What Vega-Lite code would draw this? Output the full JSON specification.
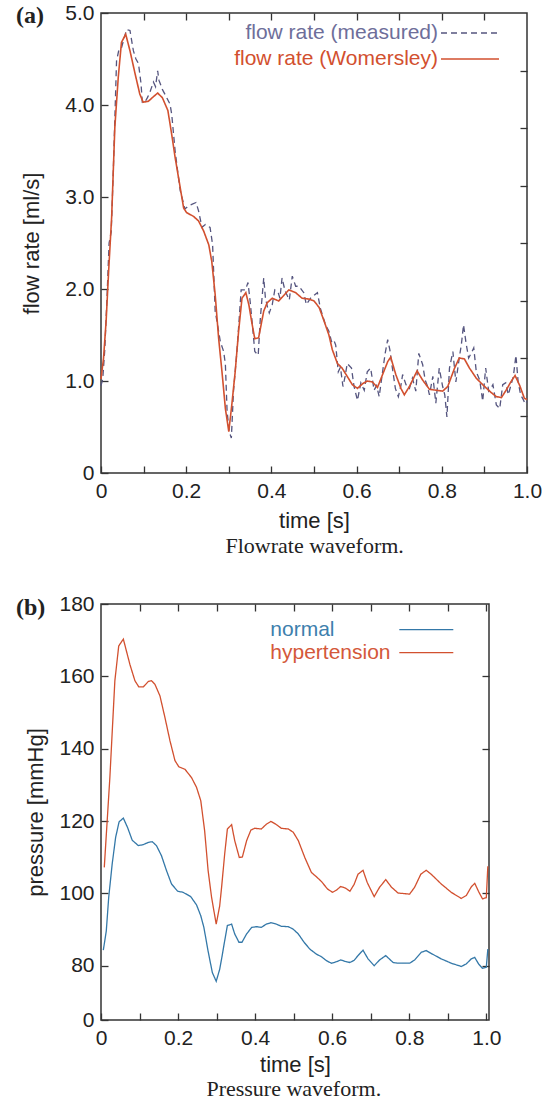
{
"$schema": "https://vega.github.io/schema/vega-lite/v6.json",
"background": "white",
"padding": {"left": 15, "top": 1, "right": 5, "bottom": 0},
"spacing": 35,
"resolve": {"scale": {"color": "independent", "strokeDash": "independent"}, "legend": {"color": "independent", "strokeDash": "independent"}},
"datasets": {
"flow": [
{"t":0,"v":0.95,"s":"flow rate (measured)"},{"t":0.004,"v":1.02,"s":"flow rate (measured)"},{"t":0.009,"v":1.35,"s":"flow rate (measured)"},{"t":0.014,"v":1.9,"s":"flow rate (measured)"},{"t":0.019,"v":2.5,"s":"flow rate (measured)"},{"t":0.024,"v":2.62,"s":"flow rate (measured)"},{"t":0.029,"v":3.3,"s":"flow rate (measured)"},{"t":0.0365,"v":4.48,"s":"flow rate (measured)"},{"t":0.042,"v":4.6,"s":"flow rate (measured)"},{"t":0.048,"v":4.62,"s":"flow rate (measured)"},{"t":0.054,"v":4.72,"s":"flow rate (measured)"},{"t":0.06,"v":4.82,"s":"flow rate (measured)"},{"t":0.068,"v":4.81,"s":"flow rate (measured)"},{"t":0.076,"v":4.59,"s":"flow rate (measured)"},{"t":0.082,"v":4.5,"s":"flow rate (measured)"},{"t":0.088,"v":4.45,"s":"flow rate (measured)"},{"t":0.094,"v":4.23,"s":"flow rate (measured)"},{"t":0.097,"v":4.03,"s":"flow rate (measured)"},{"t":0.103,"v":4.03,"s":"flow rate (measured)"},{"t":0.109,"v":4.08,"s":"flow rate (measured)"},{"t":0.115,"v":4.14,"s":"flow rate (measured)"},{"t":0.123,"v":4.25,"s":"flow rate (measured)"},{"t":0.128,"v":4.2,"s":"flow rate (measured)"},{"t":0.133,"v":4.37,"s":"flow rate (measured)"},{"t":0.136,"v":4.27,"s":"flow rate (measured)"},{"t":0.144,"v":4.17,"s":"flow rate (measured)"},{"t":0.152,"v":4.1,"s":"flow rate (measured)"},{"t":0.162,"v":4.01,"s":"flow rate (measured)"},{"t":0.166,"v":3.9,"s":"flow rate (measured)"},{"t":0.174,"v":3.5,"s":"flow rate (measured)"},{"t":0.18,"v":3.28,"s":"flow rate (measured)"},{"t":0.186,"v":3.07,"s":"flow rate (measured)"},{"t":0.197,"v":2.87,"s":"flow rate (measured)"},{"t":0.205,"v":2.9,"s":"flow rate (measured)"},{"t":0.213,"v":2.92,"s":"flow rate (measured)"},{"t":0.223,"v":2.94,"s":"flow rate (measured)"},{"t":0.229,"v":2.85,"s":"flow rate (measured)"},{"t":0.237,"v":2.67,"s":"flow rate (measured)"},{"t":0.245,"v":2.7,"s":"flow rate (measured)"},{"t":0.256,"v":2.67,"s":"flow rate (measured)"},{"t":0.262,"v":2.48,"s":"flow rate (measured)"},{"t":0.268,"v":1.76,"s":"flow rate (measured)"},{"t":0.274,"v":1.6,"s":"flow rate (measured)"},{"t":0.28,"v":1.43,"s":"flow rate (measured)"},{"t":0.288,"v":1.32,"s":"flow rate (measured)"},{"t":0.292,"v":1.18,"s":"flow rate (measured)"},{"t":0.296,"v":0.67,"s":"flow rate (measured)"},{"t":0.301,"v":0.45,"s":"flow rate (measured)"},{"t":0.306,"v":0.38,"s":"flow rate (measured)"},{"t":0.311,"v":0.89,"s":"flow rate (measured)"},{"t":0.319,"v":1.32,"s":"flow rate (measured)"},{"t":0.324,"v":1.65,"s":"flow rate (measured)"},{"t":0.329,"v":1.99,"s":"flow rate (measured)"},{"t":0.339,"v":1.99,"s":"flow rate (measured)"},{"t":0.345,"v":2.07,"s":"flow rate (measured)"},{"t":0.35,"v":1.87,"s":"flow rate (measured)"},{"t":0.356,"v":1.58,"s":"flow rate (measured)"},{"t":0.361,"v":1.32,"s":"flow rate (measured)"},{"t":0.369,"v":1.28,"s":"flow rate (measured)"},{"t":0.374,"v":1.68,"s":"flow rate (measured)"},{"t":0.382,"v":2.12,"s":"flow rate (measured)"},{"t":0.386,"v":1.9,"s":"flow rate (measured)"},{"t":0.391,"v":1.8,"s":"flow rate (measured)"},{"t":0.395,"v":1.74,"s":"flow rate (measured)"},{"t":0.402,"v":1.83,"s":"flow rate (measured)"},{"t":0.408,"v":1.99,"s":"flow rate (measured)"},{"t":0.416,"v":1.96,"s":"flow rate (measured)"},{"t":0.42,"v":1.9,"s":"flow rate (measured)"},{"t":0.425,"v":2.12,"s":"flow rate (measured)"},{"t":0.432,"v":1.98,"s":"flow rate (measured)"},{"t":0.442,"v":1.88,"s":"flow rate (measured)"},{"t":0.449,"v":2.14,"s":"flow rate (measured)"},{"t":0.457,"v":2.03,"s":"flow rate (measured)"},{"t":0.465,"v":2.03,"s":"flow rate (measured)"},{"t":0.476,"v":1.96,"s":"flow rate (measured)"},{"t":0.482,"v":1.83,"s":"flow rate (measured)"},{"t":0.492,"v":1.9,"s":"flow rate (measured)"},{"t":0.5,"v":1.93,"s":"flow rate (measured)"},{"t":0.508,"v":1.96,"s":"flow rate (measured)"},{"t":0.515,"v":1.79,"s":"flow rate (measured)"},{"t":0.521,"v":1.7,"s":"flow rate (measured)"},{"t":0.527,"v":1.61,"s":"flow rate (measured)"},{"t":0.535,"v":1.54,"s":"flow rate (measured)"},{"t":0.541,"v":1.43,"s":"flow rate (measured)"},{"t":0.546,"v":1.45,"s":"flow rate (measured)"},{"t":0.551,"v":1.39,"s":"flow rate (measured)"},{"t":0.557,"v":1.1,"s":"flow rate (measured)"},{"t":0.562,"v":1.15,"s":"flow rate (measured)"},{"t":0.568,"v":0.94,"s":"flow rate (measured)"},{"t":0.573,"v":1.05,"s":"flow rate (measured)"},{"t":0.578,"v":1.19,"s":"flow rate (measured)"},{"t":0.588,"v":1.14,"s":"flow rate (measured)"},{"t":0.594,"v":0.94,"s":"flow rate (measured)"},{"t":0.602,"v":0.79,"s":"flow rate (measured)"},{"t":0.61,"v":0.98,"s":"flow rate (measured)"},{"t":0.618,"v":0.9,"s":"flow rate (measured)"},{"t":0.625,"v":1.1,"s":"flow rate (measured)"},{"t":0.633,"v":1.14,"s":"flow rate (measured)"},{"t":0.641,"v":0.9,"s":"flow rate (measured)"},{"t":0.647,"v":0.95,"s":"flow rate (measured)"},{"t":0.653,"v":0.83,"s":"flow rate (measured)"},{"t":0.661,"v":1.1,"s":"flow rate (measured)"},{"t":0.667,"v":1.3,"s":"flow rate (measured)"},{"t":0.673,"v":1.45,"s":"flow rate (measured)"},{"t":0.678,"v":1.34,"s":"flow rate (measured)"},{"t":0.684,"v":1.14,"s":"flow rate (measured)"},{"t":0.691,"v":0.92,"s":"flow rate (measured)"},{"t":0.698,"v":0.83,"s":"flow rate (measured)"},{"t":0.704,"v":0.95,"s":"flow rate (measured)"},{"t":0.708,"v":1.07,"s":"flow rate (measured)"},{"t":0.716,"v":0.96,"s":"flow rate (measured)"},{"t":0.724,"v":0.92,"s":"flow rate (measured)"},{"t":0.731,"v":1.03,"s":"flow rate (measured)"},{"t":0.739,"v":0.89,"s":"flow rate (measured)"},{"t":0.746,"v":1.3,"s":"flow rate (measured)"},{"t":0.755,"v":1.18,"s":"flow rate (measured)"},{"t":0.761,"v":1.01,"s":"flow rate (measured)"},{"t":0.766,"v":0.95,"s":"flow rate (measured)"},{"t":0.771,"v":0.85,"s":"flow rate (measured)"},{"t":0.779,"v":1.05,"s":"flow rate (measured)"},{"t":0.786,"v":0.76,"s":"flow rate (measured)"},{"t":0.794,"v":1.14,"s":"flow rate (measured)"},{"t":0.802,"v":0.94,"s":"flow rate (measured)"},{"t":0.807,"v":0.85,"s":"flow rate (measured)"},{"t":0.812,"v":0.61,"s":"flow rate (measured)"},{"t":0.818,"v":1.14,"s":"flow rate (measured)"},{"t":0.826,"v":1.32,"s":"flow rate (measured)"},{"t":0.833,"v":0.99,"s":"flow rate (measured)"},{"t":0.841,"v":1.25,"s":"flow rate (measured)"},{"t":0.846,"v":1.4,"s":"flow rate (measured)"},{"t":0.851,"v":1.61,"s":"flow rate (measured)"},{"t":0.857,"v":1.41,"s":"flow rate (measured)"},{"t":0.863,"v":1.25,"s":"flow rate (measured)"},{"t":0.869,"v":1.3,"s":"flow rate (measured)"},{"t":0.875,"v":1.36,"s":"flow rate (measured)"},{"t":0.881,"v":1.1,"s":"flow rate (measured)"},{"t":0.889,"v":1.01,"s":"flow rate (measured)"},{"t":0.896,"v":0.78,"s":"flow rate (measured)"},{"t":0.903,"v":1.14,"s":"flow rate (measured)"},{"t":0.91,"v":0.89,"s":"flow rate (measured)"},{"t":0.915,"v":0.92,"s":"flow rate (measured)"},{"t":0.92,"v":0.96,"s":"flow rate (measured)"},{"t":0.928,"v":0.74,"s":"flow rate (measured)"},{"t":0.936,"v":0.7,"s":"flow rate (measured)"},{"t":0.943,"v":0.96,"s":"flow rate (measured)"},{"t":0.95,"v":0.98,"s":"flow rate (measured)"},{"t":0.956,"v":0.85,"s":"flow rate (measured)"},{"t":0.962,"v":0.95,"s":"flow rate (measured)"},{"t":0.968,"v":1.05,"s":"flow rate (measured)"},{"t":0.974,"v":1.28,"s":"flow rate (measured)"},{"t":0.979,"v":1.0,"s":"flow rate (measured)"},{"t":0.985,"v":0.85,"s":"flow rate (measured)"},{"t":0.991,"v":0.8,"s":"flow rate (measured)"},{"t":0.996,"v":0.75,"s":"flow rate (measured)"},{"t":1.0,"v":0.78,"s":"flow rate (measured)"},
{"t":0,"v":1.02,"s":"flow rate (Womersley)"},{"t":0.006,"v":1.25,"s":"flow rate (Womersley)"},{"t":0.012,"v":1.65,"s":"flow rate (Womersley)"},{"t":0.018,"v":2.2,"s":"flow rate (Womersley)"},{"t":0.025,"v":2.78,"s":"flow rate (Womersley)"},{"t":0.0325,"v":3.76,"s":"flow rate (Womersley)"},{"t":0.0405,"v":4.3,"s":"flow rate (Womersley)"},{"t":0.048,"v":4.68,"s":"flow rate (Womersley)"},{"t":0.058,"v":4.77,"s":"flow rate (Womersley)"},{"t":0.068,"v":4.59,"s":"flow rate (Womersley)"},{"t":0.08,"v":4.34,"s":"flow rate (Womersley)"},{"t":0.091,"v":4.12,"s":"flow rate (Womersley)"},{"t":0.099,"v":4.03,"s":"flow rate (Womersley)"},{"t":0.111,"v":4.04,"s":"flow rate (Womersley)"},{"t":0.123,"v":4.09,"s":"flow rate (Womersley)"},{"t":0.133,"v":4.13,"s":"flow rate (Womersley)"},{"t":0.144,"v":4.08,"s":"flow rate (Womersley)"},{"t":0.157,"v":3.94,"s":"flow rate (Womersley)"},{"t":0.166,"v":3.68,"s":"flow rate (Womersley)"},{"t":0.174,"v":3.43,"s":"flow rate (Womersley)"},{"t":0.186,"v":3.1,"s":"flow rate (Womersley)"},{"t":0.194,"v":2.88,"s":"flow rate (Womersley)"},{"t":0.201,"v":2.83,"s":"flow rate (Womersley)"},{"t":0.217,"v":2.79,"s":"flow rate (Womersley)"},{"t":0.229,"v":2.74,"s":"flow rate (Womersley)"},{"t":0.241,"v":2.63,"s":"flow rate (Womersley)"},{"t":0.253,"v":2.48,"s":"flow rate (Womersley)"},{"t":0.26,"v":2.3,"s":"flow rate (Womersley)"},{"t":0.268,"v":1.94,"s":"flow rate (Womersley)"},{"t":0.276,"v":1.47,"s":"flow rate (Womersley)"},{"t":0.284,"v":1.1,"s":"flow rate (Womersley)"},{"t":0.292,"v":0.7,"s":"flow rate (Womersley)"},{"t":0.3,"v":0.45,"s":"flow rate (Womersley)"},{"t":0.307,"v":0.74,"s":"flow rate (Womersley)"},{"t":0.315,"v":1.1,"s":"flow rate (Womersley)"},{"t":0.323,"v":1.54,"s":"flow rate (Womersley)"},{"t":0.331,"v":1.9,"s":"flow rate (Womersley)"},{"t":0.34,"v":1.96,"s":"flow rate (Womersley)"},{"t":0.347,"v":1.83,"s":"flow rate (Womersley)"},{"t":0.355,"v":1.61,"s":"flow rate (Womersley)"},{"t":0.361,"v":1.46,"s":"flow rate (Womersley)"},{"t":0.37,"v":1.47,"s":"flow rate (Womersley)"},{"t":0.382,"v":1.76,"s":"flow rate (Womersley)"},{"t":0.39,"v":1.85,"s":"flow rate (Womersley)"},{"t":0.402,"v":1.9,"s":"flow rate (Womersley)"},{"t":0.417,"v":1.87,"s":"flow rate (Womersley)"},{"t":0.429,"v":1.93,"s":"flow rate (Womersley)"},{"t":0.441,"v":1.99,"s":"flow rate (Womersley)"},{"t":0.457,"v":1.96,"s":"flow rate (Womersley)"},{"t":0.472,"v":1.9,"s":"flow rate (Womersley)"},{"t":0.488,"v":1.89,"s":"flow rate (Womersley)"},{"t":0.5,"v":1.87,"s":"flow rate (Womersley)"},{"t":0.512,"v":1.8,"s":"flow rate (Womersley)"},{"t":0.523,"v":1.66,"s":"flow rate (Womersley)"},{"t":0.535,"v":1.5,"s":"flow rate (Womersley)"},{"t":0.543,"v":1.34,"s":"flow rate (Womersley)"},{"t":0.555,"v":1.19,"s":"flow rate (Womersley)"},{"t":0.566,"v":1.14,"s":"flow rate (Womersley)"},{"t":0.578,"v":1.05,"s":"flow rate (Womersley)"},{"t":0.59,"v":0.96,"s":"flow rate (Womersley)"},{"t":0.602,"v":0.92,"s":"flow rate (Womersley)"},{"t":0.614,"v":0.97,"s":"flow rate (Womersley)"},{"t":0.625,"v":1.0,"s":"flow rate (Womersley)"},{"t":0.637,"v":0.99,"s":"flow rate (Womersley)"},{"t":0.649,"v":0.93,"s":"flow rate (Womersley)"},{"t":0.661,"v":1.07,"s":"flow rate (Womersley)"},{"t":0.673,"v":1.21,"s":"flow rate (Womersley)"},{"t":0.68,"v":1.26,"s":"flow rate (Womersley)"},{"t":0.692,"v":1.07,"s":"flow rate (Womersley)"},{"t":0.704,"v":0.92,"s":"flow rate (Womersley)"},{"t":0.712,"v":0.85,"s":"flow rate (Womersley)"},{"t":0.724,"v":0.94,"s":"flow rate (Womersley)"},{"t":0.742,"v":1.11,"s":"flow rate (Womersley)"},{"t":0.755,"v":1.01,"s":"flow rate (Womersley)"},{"t":0.771,"v":0.91,"s":"flow rate (Womersley)"},{"t":0.786,"v":0.9,"s":"flow rate (Womersley)"},{"t":0.802,"v":0.89,"s":"flow rate (Womersley)"},{"t":0.814,"v":0.94,"s":"flow rate (Womersley)"},{"t":0.83,"v":1.14,"s":"flow rate (Womersley)"},{"t":0.841,"v":1.25,"s":"flow rate (Womersley)"},{"t":0.853,"v":1.24,"s":"flow rate (Womersley)"},{"t":0.865,"v":1.14,"s":"flow rate (Womersley)"},{"t":0.881,"v":1.03,"s":"flow rate (Womersley)"},{"t":0.896,"v":0.96,"s":"flow rate (Womersley)"},{"t":0.912,"v":0.89,"s":"flow rate (Womersley)"},{"t":0.928,"v":0.83,"s":"flow rate (Womersley)"},{"t":0.94,"v":0.82,"s":"flow rate (Womersley)"},{"t":0.951,"v":0.9,"s":"flow rate (Womersley)"},{"t":0.962,"v":0.99,"s":"flow rate (Womersley)"},{"t":0.972,"v":1.06,"s":"flow rate (Womersley)"},{"t":0.983,"v":0.95,"s":"flow rate (Womersley)"},{"t":0.994,"v":0.81,"s":"flow rate (Womersley)"},{"t":1.0,"v":0.8,"s":"flow rate (Womersley)"}
],
"pressure": [
{"t":0.006,"p":84.3,"s":"normal"},{"t":0.0137,"p":89.6,"s":"normal"},{"t":0.02,"p":98.9,"s":"normal"},{"t":0.029,"p":108.1,"s":"normal"},{"t":0.038,"p":115.5,"s":"normal"},{"t":0.047,"p":119.8,"s":"normal"},{"t":0.058,"p":120.8,"s":"normal"},{"t":0.069,"p":118.2,"s":"normal"},{"t":0.081,"p":114.7,"s":"normal"},{"t":0.097,"p":113.2,"s":"normal"},{"t":0.11,"p":113.5,"s":"normal"},{"t":0.123,"p":114.1,"s":"normal"},{"t":0.133,"p":114.3,"s":"normal"},{"t":0.144,"p":113.2,"s":"normal"},{"t":0.157,"p":110.4,"s":"normal"},{"t":0.17,"p":106.3,"s":"normal"},{"t":0.183,"p":102.6,"s":"normal"},{"t":0.199,"p":100.6,"s":"normal"},{"t":0.213,"p":100.3,"s":"normal"},{"t":0.233,"p":99.1,"s":"normal"},{"t":0.248,"p":96.8,"s":"normal"},{"t":0.259,"p":93.8,"s":"normal"},{"t":0.267,"p":90.6,"s":"normal"},{"t":0.278,"p":84.0,"s":"normal"},{"t":0.289,"p":78.1,"s":"normal"},{"t":0.299,"p":75.7,"s":"normal"},{"t":0.308,"p":79.0,"s":"normal"},{"t":0.313,"p":81.9,"s":"normal"},{"t":0.321,"p":86.9,"s":"normal"},{"t":0.328,"p":91.1,"s":"normal"},{"t":0.339,"p":91.5,"s":"normal"},{"t":0.347,"p":88.8,"s":"normal"},{"t":0.358,"p":86.5,"s":"normal"},{"t":0.366,"p":86.5,"s":"normal"},{"t":0.378,"p":88.8,"s":"normal"},{"t":0.391,"p":90.6,"s":"normal"},{"t":0.404,"p":90.8,"s":"normal"},{"t":0.416,"p":90.6,"s":"normal"},{"t":0.429,"p":91.5,"s":"normal"},{"t":0.441,"p":91.9,"s":"normal"},{"t":0.455,"p":91.5,"s":"normal"},{"t":0.468,"p":90.9,"s":"normal"},{"t":0.486,"p":90.8,"s":"normal"},{"t":0.499,"p":90.1,"s":"normal"},{"t":0.512,"p":88.8,"s":"normal"},{"t":0.527,"p":86.5,"s":"normal"},{"t":0.542,"p":84.6,"s":"normal"},{"t":0.559,"p":83.2,"s":"normal"},{"t":0.572,"p":82.5,"s":"normal"},{"t":0.585,"p":81.4,"s":"normal"},{"t":0.598,"p":80.7,"s":"normal"},{"t":0.611,"p":81.1,"s":"normal"},{"t":0.622,"p":81.6,"s":"normal"},{"t":0.634,"p":81.2,"s":"normal"},{"t":0.646,"p":80.9,"s":"normal"},{"t":0.657,"p":81.5,"s":"normal"},{"t":0.667,"p":82.8,"s":"normal"},{"t":0.68,"p":84.3,"s":"normal"},{"t":0.693,"p":81.9,"s":"normal"},{"t":0.709,"p":80.0,"s":"normal"},{"t":0.723,"p":81.6,"s":"normal"},{"t":0.739,"p":82.8,"s":"normal"},{"t":0.758,"p":80.9,"s":"normal"},{"t":0.771,"p":80.7,"s":"normal"},{"t":0.801,"p":80.7,"s":"normal"},{"t":0.814,"p":81.6,"s":"normal"},{"t":0.831,"p":83.7,"s":"normal"},{"t":0.844,"p":84.2,"s":"normal"},{"t":0.857,"p":83.4,"s":"normal"},{"t":0.883,"p":81.9,"s":"normal"},{"t":0.909,"p":80.7,"s":"normal"},{"t":0.935,"p":79.8,"s":"normal"},{"t":0.948,"p":80.5,"s":"normal"},{"t":0.961,"p":81.9,"s":"normal"},{"t":0.97,"p":82.3,"s":"normal"},{"t":0.98,"p":80.5,"s":"normal"},{"t":0.99,"p":79.3,"s":"normal"},{"t":1.0,"p":79.6,"s":"normal"},{"t":1.004,"p":84.6,"s":"normal"},
{"t":0.0085,"p":107.2,"s":"hypertension"},{"t":0.023,"p":132.0,"s":"hypertension"},{"t":0.036,"p":158.8,"s":"hypertension"},{"t":0.046,"p":168.4,"s":"hypertension"},{"t":0.058,"p":170.3,"s":"hypertension"},{"t":0.066,"p":167.0,"s":"hypertension"},{"t":0.075,"p":163.3,"s":"hypertension"},{"t":0.088,"p":158.8,"s":"hypertension"},{"t":0.098,"p":157.1,"s":"hypertension"},{"t":0.11,"p":157.1,"s":"hypertension"},{"t":0.123,"p":158.6,"s":"hypertension"},{"t":0.131,"p":158.8,"s":"hypertension"},{"t":0.14,"p":157.8,"s":"hypertension"},{"t":0.153,"p":154.6,"s":"hypertension"},{"t":0.166,"p":148.6,"s":"hypertension"},{"t":0.179,"p":142.2,"s":"hypertension"},{"t":0.192,"p":136.7,"s":"hypertension"},{"t":0.202,"p":135.0,"s":"hypertension"},{"t":0.218,"p":134.3,"s":"hypertension"},{"t":0.235,"p":132.0,"s":"hypertension"},{"t":0.248,"p":129.3,"s":"hypertension"},{"t":0.259,"p":125.6,"s":"hypertension"},{"t":0.269,"p":117.3,"s":"hypertension"},{"t":0.278,"p":106.3,"s":"hypertension"},{"t":0.287,"p":98.9,"s":"hypertension"},{"t":0.299,"p":91.5,"s":"hypertension"},{"t":0.308,"p":96.5,"s":"hypertension"},{"t":0.313,"p":101.7,"s":"hypertension"},{"t":0.321,"p":110.9,"s":"hypertension"},{"t":0.328,"p":117.8,"s":"hypertension"},{"t":0.339,"p":119.0,"s":"hypertension"},{"t":0.347,"p":114.6,"s":"hypertension"},{"t":0.359,"p":109.9,"s":"hypertension"},{"t":0.367,"p":110.1,"s":"hypertension"},{"t":0.378,"p":114.6,"s":"hypertension"},{"t":0.389,"p":117.5,"s":"hypertension"},{"t":0.399,"p":118.0,"s":"hypertension"},{"t":0.416,"p":117.8,"s":"hypertension"},{"t":0.429,"p":119.1,"s":"hypertension"},{"t":0.441,"p":119.9,"s":"hypertension"},{"t":0.454,"p":119.1,"s":"hypertension"},{"t":0.468,"p":118.0,"s":"hypertension"},{"t":0.486,"p":117.8,"s":"hypertension"},{"t":0.499,"p":116.9,"s":"hypertension"},{"t":0.512,"p":114.6,"s":"hypertension"},{"t":0.529,"p":109.9,"s":"hypertension"},{"t":0.546,"p":105.8,"s":"hypertension"},{"t":0.559,"p":104.6,"s":"hypertension"},{"t":0.572,"p":103.3,"s":"hypertension"},{"t":0.588,"p":101.2,"s":"hypertension"},{"t":0.601,"p":100.3,"s":"hypertension"},{"t":0.611,"p":100.9,"s":"hypertension"},{"t":0.622,"p":101.9,"s":"hypertension"},{"t":0.634,"p":101.5,"s":"hypertension"},{"t":0.646,"p":100.6,"s":"hypertension"},{"t":0.657,"p":102.5,"s":"hypertension"},{"t":0.667,"p":105.3,"s":"hypertension"},{"t":0.68,"p":106.4,"s":"hypertension"},{"t":0.691,"p":103.0,"s":"hypertension"},{"t":0.709,"p":99.1,"s":"hypertension"},{"t":0.723,"p":101.7,"s":"hypertension"},{"t":0.739,"p":103.8,"s":"hypertension"},{"t":0.754,"p":101.7,"s":"hypertension"},{"t":0.771,"p":100.1,"s":"hypertension"},{"t":0.801,"p":99.8,"s":"hypertension"},{"t":0.814,"p":101.7,"s":"hypertension"},{"t":0.83,"p":105.3,"s":"hypertension"},{"t":0.844,"p":106.4,"s":"hypertension"},{"t":0.857,"p":105.3,"s":"hypertension"},{"t":0.883,"p":102.6,"s":"hypertension"},{"t":0.909,"p":100.3,"s":"hypertension"},{"t":0.935,"p":98.6,"s":"hypertension"},{"t":0.948,"p":99.4,"s":"hypertension"},{"t":0.961,"p":101.8,"s":"hypertension"},{"t":0.97,"p":102.8,"s":"hypertension"},{"t":0.98,"p":100.5,"s":"hypertension"},{"t":0.99,"p":98.5,"s":"hypertension"},{"t":1.0,"p":98.8,"s":"hypertension"},{"t":1.004,"p":107.5,"s":"hypertension"}
]
},
"vconcat": [
{
"title": {"text": "Flowrate waveform.", "orient": "bottom", "anchor": "middle", "font": "Liberation Serif", "fontSize": 22, "fontWeight": "normal", "color": "#222", "offset": 4, "dx": -15},
"vconcat": [
{
"width": 426, "height": 460,
"title": {"text": "(a)", "orient": "top", "anchor": "start", "frame": "group", "font": "Liberation Serif", "fontSize": 24, "fontWeight": "bold", "color": "#222", "dx": -85, "offset": -26},
"data": {"name": "flow"},
"layer": [
{
"transform": [{"filter": "datum.s === 'flow rate (measured)'"}],
"mark": {"type": "line", "strokeWidth": 1.3},
"encoding": {
"x": {"field": "t", "type": "quantitative", "scale": {"domain": [0, 1], "nice": false, "zero": false}, "axis": {"values": [0,0.1,0.2,0.3,0.4,0.5,0.6,0.7,0.8,0.9,1], "labelExpr": "datum.value === 0 ? '0' : (round(datum.value*10) % 2 === 0 ? format(datum.value, '.1f') : '')", "title": "time [s]", "titlePadding": 9}},
"y": {"field": "v", "type": "quantitative", "scale": {"domain": [0, 5], "nice": false}, "axis": {"values": [0,1,2,3,4,5], "labelExpr": "datum.value === 0 ? '0' : format(datum.value, '.1f')", "title": "flow rate [ml/s]", "titlePadding": 21}},
"color": {"field": "s", "type": "nominal", "scale": {"domain": ["flow rate (measured)", "flow rate (Womersley)"], "range": ["#55557f", "#d2502f"]}, "legend": {"orient": "none", "legendX": 339, "legendY": 9, "title": null, "symbolType": "stroke", "symbolSize": 3364, "symbolStrokeWidth": 1.5, "symbolOffset": 0, "labelAlign": "left", "labelOffset": -60, "labelOpacity": 0, "labelFont": "Liberation Sans", "labelFontSize": 21, "labelLimit": 500, "clipHeight": 22, "rowPadding": 4, "padding": 0, "encode": {"labels": {"update": {"opacity": {"value": 0}}}, "symbols": {"update": {"opacity": {"value": 1}, "stroke": {"signal": "datum.value === 'flow rate (measured)' ? '#55557f' : '#d2502f'"}, "strokeDash": {"signal": "datum.value === 'flow rate (measured)' ? [6, 4] : [1, 0]"}}}}}},
"strokeDash": {"field": "s", "type": "nominal", "scale": {"domain": ["flow rate (Womersley)", "flow rate (measured)"], "range": [[1, 0], [6, 4]]}, "legend": {"orient": "none", "legendX": 339, "legendY": 9, "title": null, "values": ["flow rate (measured)", "flow rate (Womersley)"], "symbolType": "stroke", "symbolSize": 3364, "symbolStrokeWidth": 1.5, "symbolOffset": 0, "symbolOpacity": 0, "labelAlign": "right", "labelOffset": -62, "labelFont": "Liberation Sans", "labelFontSize": 21, "labelLimit": 500, "clipHeight": 22, "rowPadding": 4, "padding": 0, "encode": {"labels": {"update": {"fill": {"signal": "datum.value === 'flow rate (measured)' ? '#6e6e9a' : '#d2502f'"}}}, "symbols": {"update": {"opacity": {"value": 0}}}}}}
}
},
{
"transform": [{"filter": "datum.s === 'flow rate (Womersley)'"}],
"mark": {"type": "line", "strokeWidth": 1.6},
"encoding": {
"x": {"field": "t", "type": "quantitative", "axis": null},
"y": {"field": "v", "type": "quantitative", "axis": null},
"color": {"field": "s", "type": "nominal", "scale": {"domain": ["flow rate (measured)", "flow rate (Womersley)"], "range": ["#55557f", "#d2502f"]}, "legend": {"orient": "none", "legendX": 339, "legendY": 9, "title": null, "symbolType": "stroke", "symbolSize": 3364, "symbolStrokeWidth": 1.5, "symbolOffset": 0, "labelAlign": "left", "labelOffset": -60, "labelOpacity": 0, "labelFont": "Liberation Sans", "labelFontSize": 21, "labelLimit": 500, "clipHeight": 22, "rowPadding": 4, "padding": 0, "encode": {"labels": {"update": {"opacity": {"value": 0}}}, "symbols": {"update": {"opacity": {"value": 1}, "stroke": {"signal": "datum.value === 'flow rate (measured)' ? '#55557f' : '#d2502f'"}, "strokeDash": {"signal": "datum.value === 'flow rate (measured)' ? [6, 4] : [1, 0]"}}}}}},
"strokeDash": {"field": "s", "type": "nominal", "scale": {"domain": ["flow rate (Womersley)", "flow rate (measured)"], "range": [[1, 0], [6, 4]]}, "legend": {"orient": "none", "legendX": 339, "legendY": 9, "title": null, "values": ["flow rate (measured)", "flow rate (Womersley)"], "symbolType": "stroke", "symbolSize": 3364, "symbolStrokeWidth": 1.5, "symbolOffset": 0, "symbolOpacity": 0, "labelAlign": "right", "labelOffset": -62, "labelFont": "Liberation Sans", "labelFontSize": 21, "labelLimit": 500, "clipHeight": 22, "rowPadding": 4, "padding": 0, "encode": {"labels": {"update": {"fill": {"signal": "datum.value === 'flow rate (measured)' ? '#6e6e9a' : '#d2502f'"}}}, "symbols": {"update": {"opacity": {"value": 0}}}}}}
}
},
{
"mark": {"type": "line", "opacity": 0},
"encoding": {
"x": {"field": "t", "type": "quantitative", "axis": {"orient": "top", "values": [0.1,0.2,0.3,0.4,0.5,0.6,0.7,0.8,0.9], "labels": false, "title": null}},
"y": {"field": "v", "type": "quantitative", "axis": {"orient": "right", "values": [0.625,1.25,1.875,2.5,3.125,3.75,4.375], "labels": false, "title": null}},
"detail": {"field": "s"}
}
}
],
"resolve": {"axis": {"x": "independent", "y": "independent"}}
}
]
},
{
"title": {"text": "Pressure waveform.", "orient": "bottom", "anchor": "middle", "font": "Liberation Serif", "fontSize": 22, "fontWeight": "normal", "color": "#222", "offset": 3, "dx": 26},
"vconcat": [
{
"width": 388, "height": 416,
"title": {"text": "(b)", "orient": "top", "anchor": "start", "frame": "group", "font": "Liberation Serif", "fontSize": 24, "fontWeight": "bold", "color": "#222", "dx": -85, "offset": -27},
"data": {"name": "pressure"},
"layer": [
{
"mark": {"type": "line", "strokeWidth": 1.3},
"encoding": {
"x": {"field": "t", "type": "quantitative", "scale": {"domain": [0, 1.007], "nice": false, "zero": false}, "axis": {"values": [0,0.1,0.2,0.3,0.4,0.5,0.6,0.7,0.8,0.9,1], "labelExpr": "datum.value === 0 ? '0' : (round(datum.value*10) % 2 === 0 ? format(datum.value, '.1f') : '')", "title": "time [s]", "titlePadding": 6}},
"y": {"field": "p", "type": "quantitative", "scale": {"domain": [65, 180], "nice": false, "zero": false}, "axis": {"values": [65,80,100,120,140,160,180], "labelExpr": "datum.value === 65 ? '0' : format(datum.value, 'd')", "title": "pressure [mmHg]", "titlePadding": 11}},
"color": {"field": "s", "type": "nominal", "scale": {"domain": ["normal", "hypertension"], "range": ["#3478a8", "#d2502f"]}, "legend": {"orient": "none", "legendX": 169.3, "legendY": 15.6, "title": null, "symbolType": "stroke", "symbolSize": 2916, "symbolStrokeWidth": 1.3, "symbolOffset": 128, "labelAlign": "left", "labelOffset": -55, "labelOpacity": 0, "labelFont": "Liberation Sans", "labelFontSize": 21, "labelLimit": 500, "clipHeight": 20, "rowPadding": 2, "padding": 0, "encode": {"labels": {"update": {"opacity": {"value": 0}}}, "symbols": {"update": {"opacity": {"value": 1}}}}}},
"strokeDash": {"field": "s", "type": "nominal", "scale": {"domain": ["hypertension", "normal"], "range": [[1, 0], [1, 0]]}, "legend": {"orient": "none", "legendX": 169.3, "legendY": 15.6, "title": null, "values": ["normal", "hypertension"], "symbolType": "stroke", "symbolSize": 2916, "symbolStrokeWidth": 1.3, "symbolOffset": 0, "symbolOpacity": 0, "labelAlign": "left", "labelOffset": -56, "labelFont": "Liberation Sans", "labelFontSize": 21, "labelLimit": 500, "clipHeight": 20, "rowPadding": 2, "padding": 0, "encode": {"labels": {"update": {"fill": {"signal": "datum.value === 'normal' ? '#3d80ad' : '#d4583a'"}}}, "symbols": {"update": {"opacity": {"value": 0}}}}}}
}
},
{
"mark": {"type": "line", "opacity": 0},
"encoding": {
"x": {"field": "t", "type": "quantitative", "axis": {"orient": "top", "values": [0.1,0.2,0.3,0.4,0.5,0.6,0.7,0.8,0.9,1], "labels": false, "title": null}},
"y": {"field": "p", "type": "quantitative", "axis": {"orient": "right", "values": [80,100,120,140,160], "labels": false, "title": null}},
"detail": {"field": "s"}
}
}
],
"resolve": {"axis": {"x": "independent", "y": "independent"}}
}
]
}
],
"config": {
"view": {"stroke": "#333", "strokeWidth": 1.5},
"axis": {"domain": false, "grid": false, "tickSize": -7, "tickColor": "#333", "tickWidth": 1.3, "labelFont": "Liberation Sans", "labelFontSize": 21, "labelColor": "#222", "titleFont": "Liberation Sans", "titleFontSize": 22, "titleFontWeight": "normal", "titleColor": "#222", "labelFlush": false, "labelOverlap": false, "labelPadding": 14},
"legend": {"padding": 0}
}
}
